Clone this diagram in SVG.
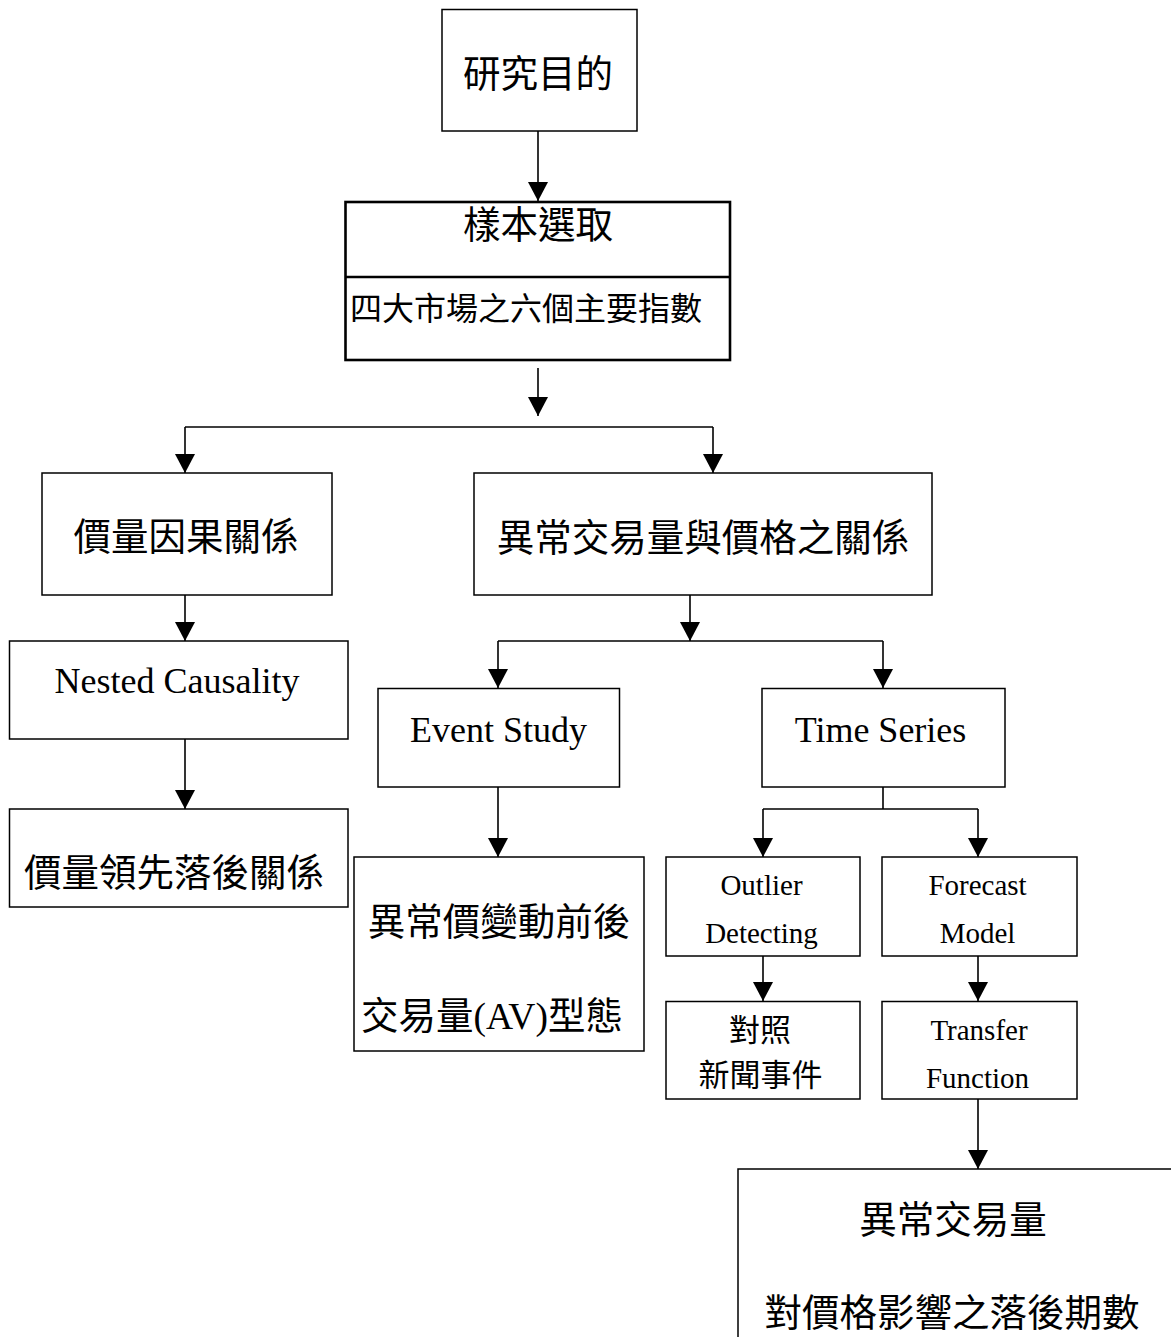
<svg xmlns="http://www.w3.org/2000/svg" width="1171" height="1337" viewBox="0 0 1171 1337">
<style>
.box{fill:#fff;stroke:#000;stroke-width:1.5}
.thick{fill:#fff;stroke:#000;stroke-width:2.6}
.cj{font-family:"Noto Sans CJK TC","Noto Sans CJK SC",sans-serif;font-size:37.5px;fill:#000;text-anchor:middle}
.cs{font-family:"Noto Sans CJK TC","Noto Sans CJK SC",sans-serif;font-size:31px;fill:#000;text-anchor:middle}
.en{font-family:"Liberation Serif","Times New Roman",serif;font-size:36px;fill:#000;text-anchor:middle}
.es{font-family:"Liberation Serif","Times New Roman",serif;font-size:29px;fill:#000;text-anchor:middle}
.ln{fill:none;stroke:#000;stroke-width:1.6}
.ar{fill:none;stroke:#000;stroke-width:1.6;marker-end:url(#ah)}
</style>
<defs>
<marker id="ah" viewBox="0 0 19 20" refX="19" refY="10" markerWidth="19" markerHeight="20" orient="auto" markerUnits="userSpaceOnUse">
<path d="M0,0 L19,10 L0,20 z" fill="#000"/>
</marker>
</defs>
<rect width="1171" height="1337" fill="#fff"/>
<g id="connectors">
<path class="ar" d="M538,131 V201"/>
<path class="ar" d="M538,368 V416"/>
<path class="ln" d="M185,427 H713"/>
<path class="ar" d="M185,427 V473"/>
<path class="ar" d="M713,427 V473"/>
<path class="ar" d="M185,595 V641"/>
<path class="ar" d="M690,595 V641"/>
<path class="ln" d="M498,641 H883"/>
<path class="ar" d="M498,641 V688"/>
<path class="ar" d="M883,641 V688"/>
<path class="ar" d="M185,739 V809"/>
<path class="ar" d="M498,787 V857"/>
<path class="ln" d="M883,787 V809 M763,809 H978"/>
<path class="ar" d="M763,809 V857"/>
<path class="ar" d="M978,809 V857"/>
<path class="ar" d="M763,956 V1001"/>
<path class="ar" d="M978,956 V1001"/>
<path class="ar" d="M978,1099 V1169"/>
</g>
<g id="n-purpose">
<rect class="box" x="442" y="9.5" width="195" height="121.5"/>
<text class="cj" x="538" y="87">研究目的</text>
</g>
<g id="n-sample">
<rect class="thick" x="345.5" y="202" width="384.5" height="158"/>
<line x1="345.5" y1="277" x2="730" y2="277" stroke="#000" stroke-width="2.6"/>
<text class="cj" x="538" y="238">樣本選取</text>
<text class="cj" x="350" y="320" style="font-size:32px;text-anchor:start">四大市場之六個主要指數</text>
</g>
<g id="n-causality">
<rect class="box" x="42" y="473" width="290" height="122"/>
<text class="cj" x="186" y="550">價量因果關係</text>
</g>
<g id="n-abnormal">
<rect class="box" x="474" y="473" width="458" height="122"/>
<text class="cj" x="703" y="551">異常交易量與價格之關係</text>
</g>
<g id="n-nested">
<rect class="box" x="9.5" y="641" width="338.5" height="98"/>
<text class="en" x="177" y="693">Nested Causality</text>
</g>
<g id="n-leadlag">
<rect class="box" x="9.5" y="809" width="338.5" height="98"/>
<text class="cj" x="174" y="886">價量領先落後關係</text>
</g>
<g id="n-event">
<rect class="box" x="378" y="688.5" width="241.5" height="98.5"/>
<text class="en" x="498.5" y="742">Event Study</text>
</g>
<g id="n-timeseries">
<rect class="box" x="762" y="688.5" width="243" height="98.5"/>
<text class="en" x="880.5" y="742">Time Series</text>
</g>
<g id="n-av">
<rect class="box" x="354" y="857" width="290" height="194"/>
<text class="cj" x="499" y="935">異常價變動前後</text>
<text class="cj" x="492" y="1029">交易量<tspan style="font-family:'Liberation Serif','Times New Roman',serif">(AV)</tspan>型態</text>
</g>
<g id="n-outlier">
<rect class="box" x="666" y="857" width="194" height="99"/>
<text class="es" x="761.5" y="895">Outlier</text>
<text class="es" x="761.5" y="943">Detecting</text>
</g>
<g id="n-forecast">
<rect class="box" x="882" y="857" width="195" height="99"/>
<text class="es" x="977.5" y="895">Forecast</text>
<text class="es" x="977.5" y="943">Model</text>
</g>
<g id="n-news">
<rect class="box" x="666" y="1001.5" width="194" height="97.5"/>
<text class="cs" x="760" y="1041">對照</text>
<text class="cs" x="760.5" y="1086">新聞事件</text>
</g>
<g id="n-transfer">
<rect class="box" x="882" y="1001.5" width="195" height="97.5"/>
<text class="es" x="979" y="1040">Transfer</text>
<text class="es" x="977.5" y="1088">Function</text>
</g>
<g id="n-lag">
<rect class="box" x="738" y="1169" width="450" height="200"/>
<text class="cj" x="953" y="1233">異常交易量</text>
<text class="cj" x="952" y="1326">對價格影響之落後期數</text>
</g>
</svg>
